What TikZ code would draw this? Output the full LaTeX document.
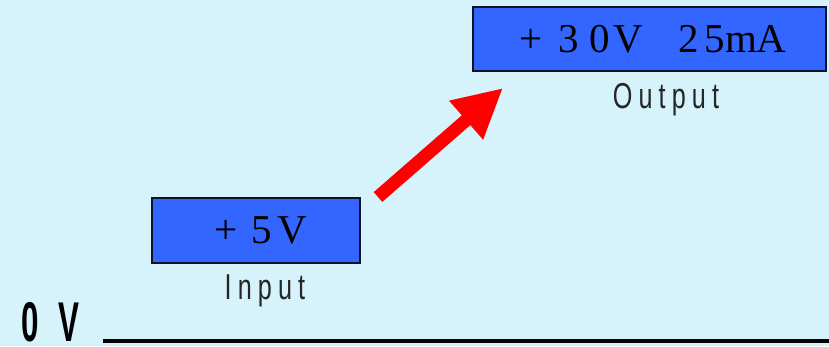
\documentclass[tikz,border=0pt]{standalone}
\usepackage{fontspec}
\setmainfont{Liberation Serif}
\setsansfont{Liberation Sans}
\newfontfamily\boxfont{Liberation Serif}
\newfontfamily\tagfont[FakeStretch=0.7,LetterSpace=17]{Liberation Sans}
\newfontfamily\railfont[FakeStretch=0.56]{Liberation Sans Bold}
\usetikzlibrary{calc,arrows.meta,positioning}
\definecolor{PanelBlue}{RGB}{214,242,250}
\definecolor{BoxBlue}{RGB}{51,102,255}
\definecolor{EdgeNavy}{RGB}{12,18,40}
\definecolor{ArrowRed}{RGB}{255,0,0}

\begin{document}
\begin{tikzpicture}[x=1pt, y=-1pt,
  volt/.style={draw=EdgeNavy, line width=2pt, fill=BoxBlue, inner sep=0pt,
               font=\boxfont\fontsize{41}{41}\selectfont, text=black},
  tag/.style={inner sep=0pt, font=\tagfont\fontsize{36}{36}\selectfont, text=black!85},
  rail/.style={line width=4pt, black},
  sig/.style={-{Triangle[width=48pt, length=49pt]}, line width=13pt, ArrowRed}]
  \useasboundingbox[fill=PanelBlue] (0,0) rectangle (829,346);
  \node[volt, minimum width=208pt, minimum height=65pt] (input) at (256,230.5)
    {\hspace{10pt}+\hspace{14pt}5\hspace{6pt}V};
  \node[volt, minimum width=353pt, minimum height=64pt] (output) at (649.5,39)
    {\hspace{7pt}+\hspace{16pt}3\hspace{10pt}0\hspace{4pt}V\hspace{35pt}2\hspace{6pt}5mA};
  \node[tag] (inlabel) at (265,291) {Input};
  \node[tag] (outlabel) at (666,100) {Output};
  \node[inner sep=0pt, anchor=base west, font=\railfont\fontsize{56}{56}\selectfont] (zero) at (21,341.5)
    {0\hspace{20pt}V};
  \coordinate (tail) at ($(input.north east)+(17,0)$);
  \coordinate (tip) at ($(output.south west)+(31,16)$);
  \draw[sig] (tail) -- (tip);
  \coordinate (railend) at (829,341);
  \draw[rail] (zero.east |- railend) ++(23,0) -- (railend);
\end{tikzpicture}
\end{document}
